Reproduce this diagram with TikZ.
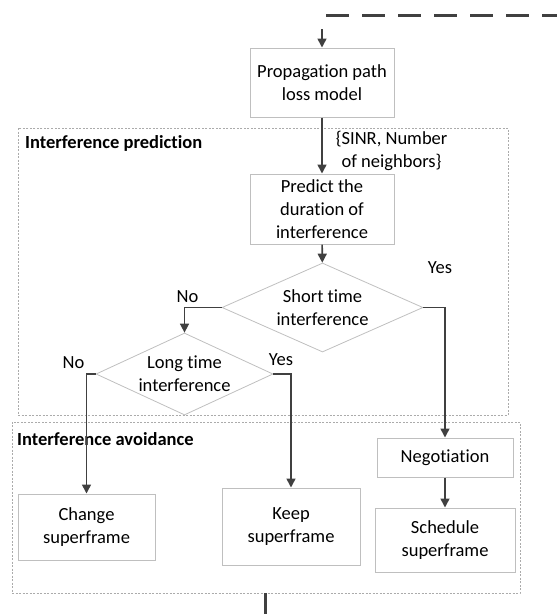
\documentclass[tikz,border=0pt]{standalone}
\usepackage{fontspec}
\setmainfont{Carlito}[Ligatures={NoCommon}]
\usetikzlibrary{arrows.meta, positioning, shapes.geometric}
\definecolor{cline}{HTML}{404040}
\definecolor{cbox}{HTML}{BFBFBF}
\definecolor{cframe}{HTML}{ABABAB}
\tikzset{
  every picture/.style={font=\fontsize{18.5}{23}\selectfont},
  box/.style={draw=cbox, line width=1pt, align=center, inner sep=0pt},
  decision/.style={diamond, draw=cbox, line width=0.8pt, align=center, inner sep=0pt},
  arrow/.style={-{Triangle[length=9pt, width=9pt]}, draw=cline, line width=1.6pt},
  heavy/.style={draw=cline, line width=3pt},
  frame/.style={draw=cframe, dash pattern=on 2pt off 1.5pt, line width=0.7pt, inner sep=0pt},
  title/.style={font=\fontsize{18.5}{23}\selectfont\bfseries, inner sep=0pt, anchor=west},
  note/.style={align=center, inner sep=0pt},
}

\begin{document}
\begin{tikzpicture}[x=1pt, y=-1pt]
  \useasboundingbox (0,0) rectangle (557,614);
  % stage frames
  \node[frame, minimum width=490pt, minimum height=287pt] (predfr) at (263,271.5) {};
  \node[frame, minimum width=508pt, minimum height=171pt] (avoidfr) at (266,507.5) {};
  \node[title] (predt) at (25,143) {Interference prediction};
  \node[title] (avoidt) at (17,439) {Interference avoidance};
  % loop back from the previous step
  \coordinate (fbk1) at (326,15);
  \coordinate (fbk2) at (557,15);
  \draw[heavy, dash pattern=on 23pt off 13pt] (fbk1) -- (fbk2);
  \coordinate (entry) at (322,29);
  % prediction
  \node[box, minimum width=144pt, minimum height=69pt] (prop) at (322,82.5) {Propagation path\\loss model};
  \node[box, minimum width=144pt, minimum height=70pt] (pred) at (322,209) {Predict the\\duration of\\interference};
  \node[decision, aspect=2.26, minimum width=201pt, minimum height=89pt] (short) at (322.5,307.5) {Short time\\interference};
  \node[decision, aspect=2.16, inner xsep=-3pt, minimum width=177pt, minimum height=82pt] (long) at (184.5,374) {Long time\\interference};
  % avoidance
  \node[box, minimum width=137pt, minimum height=66pt] (change) at (86.5,527) {Change\\superframe};
  \node[box, minimum width=138pt, minimum height=77pt] (keep) at (291,526.5) {Keep\\superframe};
  \node[box, minimum width=136pt, minimum height=39pt] (neg) at (445,457.5) {Negotiation};
  \node[box, minimum width=140pt, minimum height=64pt] (sched) at (445,540) {Schedule\\superframe};
  \coordinate (exit) at (265,614);
  % connectors
  \draw[arrow] (entry) -- (prop.north);
  \draw[arrow] (prop) -- node[note, anchor=west, xshift=13pt, yshift=-5.5pt] {\{SINR, Number\\of neighbors\}} (pred);
  \draw[arrow] (pred) -- (short);
  \draw[arrow] (short.west) -| node[note, pos=0.5, above=4pt, xshift=3pt] {No} (long.north);
  \draw[arrow] (short.east) -| node[note, pos=0.5, above=33pt, xshift=-5pt] {Yes} (neg.north);
  \draw[arrow] (long.west) -| node[note, pos=0.5, above=5pt, xshift=-13pt] {No} (change.north);
  \draw[arrow] (long.east) -| node[note, pos=0.5, above=8pt, xshift=-10pt] {Yes} (keep.north);
  \draw[arrow] (neg) -- (sched);
  \draw[heavy] (avoidfr.south -| exit) -- (exit);
\end{tikzpicture}
\end{document}
